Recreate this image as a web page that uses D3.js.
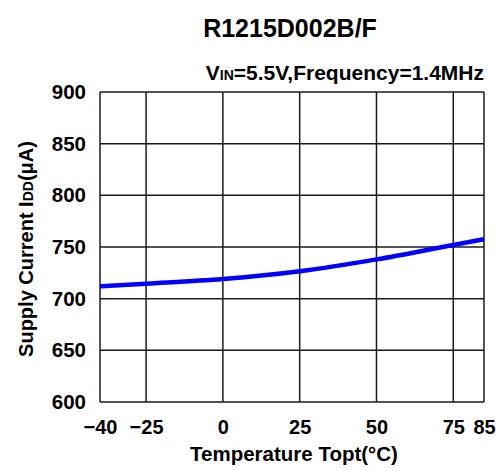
<!DOCTYPE html>
<html><head><meta charset="utf-8">
<script src="https://cdn.jsdelivr.net/npm/d3@7"></script>
<style>body{margin:0;background:#fff}svg{display:block}text{font-family:"Liberation Sans",Arial,sans-serif}</style>
</head><body>
<script>
const temperatures = [-40, -25, 0, 25, 50, 75, 85];
const supplyCurrent = [712, 714.5, 719, 726.5, 738, 752, 757.5];
const xTicks = [-40, -25, 0, 25, 50, 75, 85];
const yTicks = [600, 650, 700, 750, 800, 850, 900];
const titleText = "R1215D002B/F";

const W = 499, H = 471;
const m = {left: 100, right: 15, top: 92, bottom: 69};
const svg = d3.select("body").append("svg").attr("width", W).attr("height", H);
const x = d3.scaleLinear().domain([-40, 85]).range([m.left, W - m.right]);
const y = d3.scaleLinear().domain([600, 900]).range([H - m.bottom, m.top]);

const g = svg.append("g");
g.selectAll(".vx").data(xTicks).join("line")
  .attr("x1", d => x(d)).attr("x2", d => x(d)).attr("y1", y(600)).attr("y2", y(900))
  .attr("stroke", "#1a1a1a").attr("stroke-width", 1.5);
g.selectAll(".hy").data(yTicks).join("line")
  .attr("y1", d => y(d)).attr("y2", d => y(d)).attr("x1", x(-40)).attr("x2", x(85))
  .attr("stroke", "#1a1a1a").attr("stroke-width", 1.5);

const FF = '"Liberation Sans",Arial,sans-serif';
const xAxis = svg.append("g").attr("transform", `translate(0,${y(600)})`)
  .call(d3.axisBottom(x).tickValues(xTicks).tickSize(0).tickPadding(18).tickFormat(d3.format("d")));
xAxis.select(".domain").remove();
xAxis.selectAll("text").attr("font-size", 20).attr("font-weight", "bold").attr("fill", "#000").attr("font-family", FF);
const yAxis = svg.append("g").attr("transform", `translate(${x(-40)},0)`)
  .call(d3.axisLeft(y).tickValues(yTicks).tickSize(0).tickPadding(14));
yAxis.select(".domain").remove();
yAxis.selectAll("text").attr("font-size", 20.5).attr("font-weight", "bold").attr("fill", "#000").attr("font-family", FF);

const line = d3.line().x((d, i) => x(temperatures[i])).y(d => y(d)).curve(d3.curveMonotoneX);
svg.append("path").datum(supplyCurrent).attr("d", line)
  .attr("fill", "none").attr("stroke", "#0000ff").attr("stroke-width", 4.5);

svg.append("text").attr("x", 290).attr("y", 37).attr("text-anchor", "middle")
  .attr("font-size", 25).attr("font-weight", "bold").text(titleText);

const sub = svg.append("text").attr("x", 484).attr("y", 80).attr("text-anchor", "end")
  .attr("font-size", 21).attr("font-weight", "bold");
sub.append("tspan").text("V");
sub.append("tspan").attr("font-size", 14).text("IN");
sub.append("tspan").text("=5.5V,Frequency=1.4MHz");

svg.append("text").attr("x", 294).attr("y", 461).attr("text-anchor", "middle")
  .attr("font-size", 20.5).attr("font-weight", "bold").text("Temperature Topt(°C)");

const yt = svg.append("text").attr("transform", `translate(33,249) rotate(-90)`)
  .attr("text-anchor", "middle").attr("font-size", 20).attr("font-weight", "bold");
yt.append("tspan").text("Supply Current I");
yt.append("tspan").attr("font-size", 14).text("DD");
yt.append("tspan").text("(μA)");
</script>
</body></html>
